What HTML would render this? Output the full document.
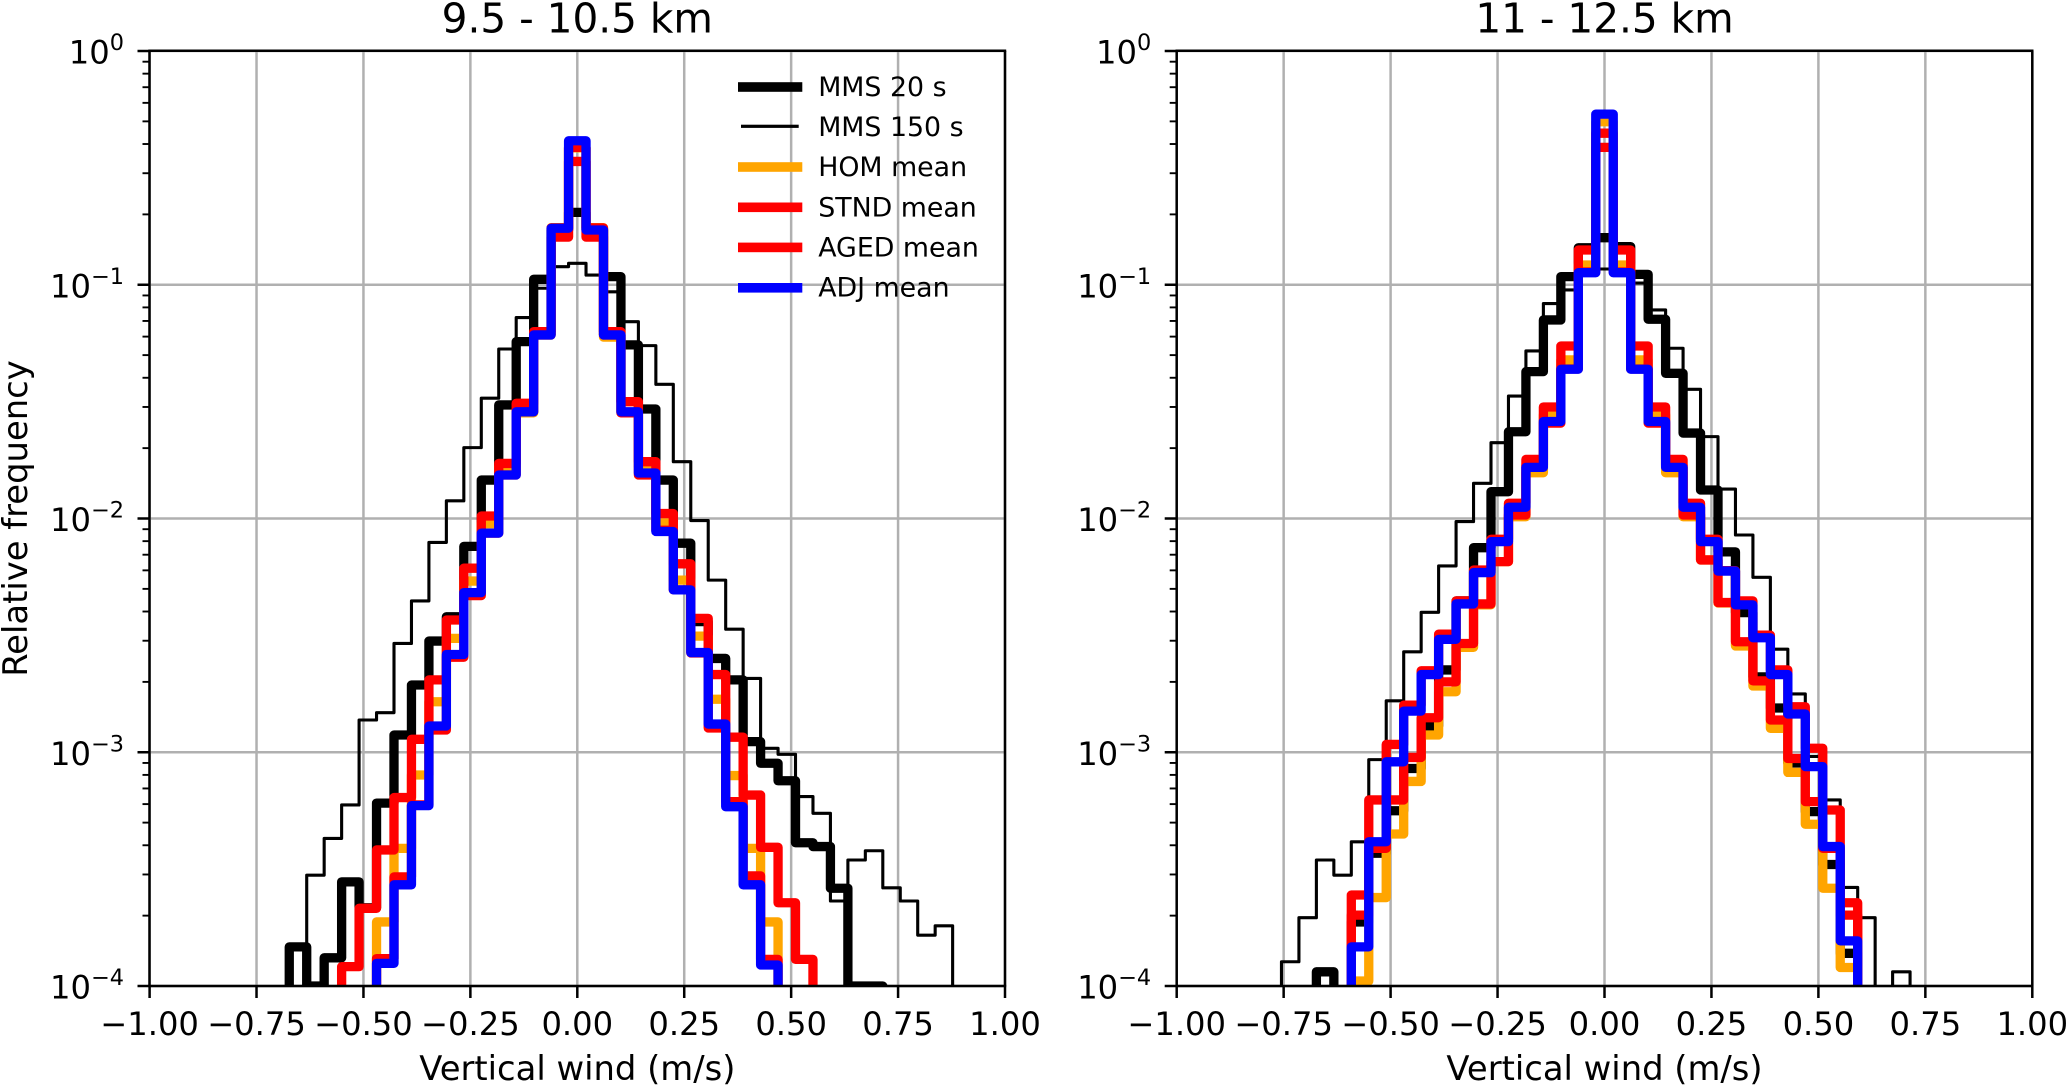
<!DOCTYPE html>
<html lang="en">
<head>
<meta charset="utf-8">
<title>Vertical wind histograms</title>
<style>
html,body{margin:0;padding:0;background:#fff;width:2067px;height:1086px;overflow:hidden}
svg{display:block}
text{font-family:"DejaVu Sans","Liberation Sans",sans-serif;fill:#000}
</style>
</head>
<body>
<svg id="fig" xmlns="http://www.w3.org/2000/svg" width="2067" height="1086" viewBox="0 0 2067 1086">
  <rect x="0" y="0" width="2067" height="1086" fill="#fff"/>
  <defs>
    <clipPath id="clip-left"><rect x="149.5" y="50.7" width="855.5" height="935.3"/></clipPath>
    <clipPath id="clip-right"><rect x="1176.7" y="50.7" width="855.6" height="935.3"/></clipPath>
  </defs>
  <g id="panel-left"></g>
  <g id="panel-right"></g>

  <text x="577.3" y="32.3" font-size="40.6" text-anchor="middle">9.5 - 10.5 km</text>
  <text x="1604.5" y="32.3" font-size="40.6" text-anchor="middle">11 - 12.5 km</text>
  <text x="577.3" y="1080" font-size="33.8" text-anchor="middle">Vertical wind (m/s)</text>
  <text x="1604.5" y="1080" font-size="33.8" text-anchor="middle">Vertical wind (m/s)</text>
  <text transform="translate(27,518.5) rotate(-90)" font-size="33.8" text-anchor="middle">Relative frequency</text>

  <g>
    <g>
      <rect x="738" y="82.2" width="64.3" height="9.6" fill="#000"/>
      <text x="818.2" y="96" font-size="26.8">MMS 20 s</text>
    </g>
    <g>
      <rect x="741" y="124.7" width="57.7" height="3.2" fill="#000"/>
      <text x="818.2" y="136" font-size="26.8">MMS 150 s</text>
    </g>
    <g>
      <rect x="738" y="162.2" width="64.3" height="9.6" fill="#ffa500"/>
      <text x="818.2" y="176.2" font-size="26.8">HOM mean</text>
    </g>
    <g>
      <rect x="738" y="202.5" width="64.3" height="9.6" fill="#ff0000"/>
      <text x="818.2" y="216.7" font-size="26.8">STND mean</text>
    </g>
    <g>
      <rect x="738" y="242.6" width="64.3" height="9.6" fill="#ff0000"/>
      <text x="818.2" y="256.7" font-size="26.8">AGED mean</text>
    </g>
    <g>
      <rect x="738" y="283" width="64.3" height="9.6" fill="#0000ff"/>
      <text x="818.2" y="296.7" font-size="26.8">ADJ mean</text>
    </g>
  </g>
</svg>
<script>
// Tick values and labels
const xTickValues = [-1, -0.75, -0.5, -0.25, 0, 0.25, 0.5, 0.75, 1];
const xTickLabels = ['\u22121.00', '\u22120.75', '\u22120.50', '\u22120.25', '0.00', '0.25', '0.50', '0.75', '1.00'];
const yTickExponents = [0, -1, -2, -3, -4];
const yTickExponentLabels = ['0', '\u22121', '\u22122', '\u22123', '\u22124'];
const binCount = 49;

// Relative frequency per wind bin (49 bins from -1 to 1 m/s), 9.5 - 10.5 km
const mms20Left = [0,0,0,0,0,0,0,0,
  1.47e-4,1e-4,1.32e-4,2.79e-4,2.16e-4,6.06e-4,1.185e-3,1.94e-3,2.99e-3,3.80e-3,7.6e-3,1.46e-2,3.06e-2,5.71e-2,1.055e-1,1.715e-1,2.04e-1,
  1.715e-1,1.083e-1,5.53e-2,2.94e-2,1.46e-2,7.84e-3,3.62e-3,2.52e-3,2.04e-3,1.11e-3,8.97e-4,7.55e-4,4.1e-4,3.95e-4,2.62e-4,1e-4,1e-4,
  0,0,0,0,0,0,0];
const mms150Left = [0,0,0,0,0,0,0,0,0,
  2.98e-4,4.28e-4,5.95e-4,1.374e-3,1.477e-3,2.92e-3,4.44e-3,7.9e-3,1.19e-2,2.01e-2,3.27e-2,5.31e-2,7.24e-2,9.66e-2,1.195e-1,1.235e-1,
  1.10e-1,9.33e-2,6.95e-2,5.49e-2,3.75e-2,1.75e-2,9.8e-3,5.45e-3,3.36e-3,2.07e-3,1.04e-3,9.8e-4,6.46e-4,5.48e-4,2.31e-4,3.46e-4,3.79e-4,2.63e-4,2.31e-4,1.65e-4,1.81e-4,
  0,0,0];
const homLeft = [0,0,0,0,0,0,0,0,0,0,0,0,0,
  1.88e-4,3.88e-4,7.99e-4,1.645e-3,3.07e-3,5.4e-3,9.5e-3,1.665e-2,2.83e-2,6.1e-2,1.755e-1,3.85e-1,
  1.755e-1,5.97e-2,2.83e-2,1.665e-2,9.57e-3,5.45e-3,3.14e-3,1.685e-3,7.95e-4,3.88e-4,1.88e-4,
  0,0,0,0,0,0,0,0,0,0,0,0,0];
const stndLeft = [0,0,0,0,0,0,0,0,0,0,0,
  1.21e-4,2.15e-4,3.82e-4,6.4e-4,1.136e-3,2.04e-3,3.68e-3,6.13e-3,1.025e-2,1.72e-2,3.11e-2,6.3e-2,1.6e-1,3.37e-1,
  1.6e-1,6.3e-2,3.16e-2,1.75e-2,1.05e-2,6.4e-3,3.74e-3,2.15e-3,1.16e-3,6.56e-4,3.92e-4,2.27e-4,1.30e-4,
  0,0,0,0,0,0,0,0,0,0,0];
const agedLeft = [0,0,0,0,0,0,0,0,0,0,0,0,0,
  1.31e-4,2.93e-4,5.95e-4,1.245e-3,2.55e-3,4.68e-3,8.66e-3,1.535e-2,2.86e-2,6.1e-2,1.75e-1,3.87e-1,
  1.75e-1,6.1e-2,2.83e-2,1.535e-2,8.9e-3,4.95e-3,2.66e-3,1.27e-3,6.15e-4,2.96e-4,1.30e-4,
  0,0,0,0,0,0,0,0,0,0,0,0,0];
const adjLeft = [0,0,0,0,0,0,0,0,0,0,0,0,0,
  1.25e-4,2.71e-4,5.91e-4,1.295e-3,2.62e-3,4.82e-3,8.66e-3,1.535e-2,2.86e-2,6.1e-2,1.745e-1,4.13e-1,
  1.715e-1,6.1e-2,2.86e-2,1.565e-2,8.8e-3,4.95e-3,2.67e-3,1.32e-3,5.85e-4,2.71e-4,1.23e-4,
  0,0,0,0,0,0,0,0,0,0,0,0,0];

// Relative frequency per wind bin, 11 - 12.5 km
const mms20Right = [0,0,0,0,0,0,0,0,
  1.15e-4,0,1.88e-4,3.7e-4,5.62e-4,8.52e-4,1.295e-3,2.25e-3,4.44e-3,7.5e-3,1.302e-2,2.35e-2,4.25e-2,7.07e-2,1.083e-1,1.44e-1,1.59e-1,
  1.455e-1,1.108e-1,7.12e-2,4.18e-2,2.32e-2,1.324e-2,7.2e-3,3.96e-3,2.1e-3,1.546e-3,9.0e-4,5.57e-4,3.31e-4,1.38e-4,
  0,0,0,0,0,0,0,0,0,0];
const mms150Right = [0,0,0,0,0,0,
  1.27e-4,1.96e-4,3.46e-4,2.98e-4,4.14e-4,9.3e-4,1.66e-3,2.69e-3,3.97e-3,6.27e-3,9.7e-3,1.414e-2,2.11e-2,3.34e-2,5.21e-2,8.31e-2,9.5e-2,1.156e-1,1.168e-1,
  1.156e-1,1.017e-1,7.8e-2,5.35e-2,3.57e-2,2.24e-2,1.336e-2,8.5e-3,5.6e-3,2.76e-3,1.776e-3,9.6e-4,6.25e-4,2.64e-4,1.96e-4,0,1.15e-4,
  0,0,0,0,0,0,0];
const homRight = [0,0,0,0,0,0,0,0,0,0,
  1.05e-4,2.39e-4,4.47e-4,7.5e-4,1.185e-3,1.815e-3,2.81e-3,4.27e-3,6.54e-3,1.018e-2,1.57e-2,2.77e-2,4.77e-2,1.215e-1,4.98e-1,
  1.215e-1,4.77e-2,2.77e-2,1.57e-2,1.018e-2,6.65e-3,4.35e-3,2.85e-3,1.92e-3,1.266e-3,8.2e-4,4.92e-4,2.62e-4,1.2e-4,
  0,0,0,0,0,0,0,0,0,0];
const stndRight = [0,0,0,0,0,0,0,0,0,0,
  2.45e-4,6.25e-4,1.08e-3,1.59e-3,2.23e-3,3.2e-3,4.44e-3,6.02e-3,8.15e-3,1.162e-2,1.79e-2,3.0e-2,5.47e-2,1.408e-1,4.45e-1,
  1.408e-1,5.47e-2,3.0e-2,1.79e-2,1.162e-2,8.15e-3,5.98e-3,4.44e-3,3.17e-3,2.25e-3,1.566e-3,1.04e-3,5.66e-4,2.27e-4,
  0,0,0,0,0,0,0,0,0,0];
const agedRight = [0,0,0,0,0,0,0,0,0,0,
  2.01e-4,3.88e-4,6.25e-4,9.5e-4,1.405e-3,2.0e-3,2.92e-3,4.31e-3,6.54e-3,1.035e-2,1.69e-2,2.56e-2,4.36e-2,1.134e-1,3.87e-1,
  1.134e-1,4.36e-2,2.56e-2,1.69e-2,1.035e-2,6.65e-3,4.37e-3,2.97e-3,2.02e-3,1.374e-3,9.4e-4,6.15e-4,3.88e-4,2.01e-4,
  0,0,0,0,0,0,0,0,0,0];
const adjRight = [0,0,0,0,0,0,0,0,0,0,
  1.47e-4,4.14e-4,9.1e-4,1.50e-3,2.15e-3,3.04e-3,4.31e-3,5.87e-3,7.96e-3,1.117e-2,1.655e-2,2.6e-2,4.35e-2,1.126e-1,5.37e-1,
  1.126e-1,4.35e-2,2.6e-2,1.655e-2,1.117e-2,7.96e-3,5.96e-3,4.27e-3,3.09e-3,2.15e-3,1.458e-3,8.68e-4,3.95e-4,1.56e-4,
  0,0,0,0,0,0,0,0,0,0];

// Axis functions
const SVG_NS = 'http://www.w3.org/2000/svg';
const leftPanel = { x0: 577.3, span: 427.7, clip: 'clip-left', group: 'panel-left', left: 149.5, right: 1005 };
const rightPanel = { x0: 1604.5, span: 427.8, clip: 'clip-right', group: 'panel-right', left: 1176.7, right: 2032.3 };
const yTop = 51;
const decadeHeight = 233.75;
const axisTop = 50.7;
const axisBottom = 986;

function xScale(panel, v) { return panel.x0 + panel.span * v; }
function yScale(v) { return v > 0 ? yTop - decadeHeight * Math.log10(v) : axisBottom + 60; }

function makeLine(x1, y1, x2, y2, color, width) {
  const el = document.createElementNS(SVG_NS, 'line');
  el.setAttribute('x1', x1);
  el.setAttribute('y1', y1);
  el.setAttribute('x2', x2);
  el.setAttribute('y2', y2);
  el.setAttribute('stroke', color);
  el.setAttribute('stroke-width', width);
  return el;
}

function drawGrid(panel, root) {
  xTickValues.forEach(function (v) {
    const x = xScale(panel, v);
    const el = makeLine(x, axisTop, x, axisBottom, '#b0b0b0', 2.5);
    
    
    root.appendChild(el);
  });
  yTickExponents.forEach(function (e) {
    const y = yScale(Math.pow(10, e));
    const el = makeLine(panel.left, y, panel.right, y, '#b0b0b0', 2.5);
    
    
    root.appendChild(el);
  });
}

function drawStep(panel, root, values, color, width, name) {
  const binWidth = 2 / binCount;
  let d = '';
  values.forEach(function (v, i) {
    const x1 = xScale(panel, -1 + i * binWidth);
    const x2 = xScale(panel, -1 + (i + 1) * binWidth);
    const y = yScale(v);
    d += (i === 0 ? 'M' : 'L') + x1.toFixed(2) + ' ' + y.toFixed(2) + 'L' + x2.toFixed(2) + ' ' + y.toFixed(2);
  });
  const el = document.createElementNS(SVG_NS, 'path');
  el.setAttribute('d', d);
  el.setAttribute('fill', 'none');
  el.setAttribute('stroke', color);
  el.setAttribute('stroke-width', width);
  el.setAttribute('stroke-linejoin', 'round');
  el.setAttribute('clip-path', 'url(#' + panel.clip + ')');
  
  
  root.appendChild(el);
}

function drawAxes(panel, root) {
  const sides = [
    [panel.left, axisTop, panel.left, axisBottom, 'left-spine'],
    [panel.right, axisTop, panel.right, axisBottom, 'right-spine'],
    [panel.left - 1.2, axisTop, panel.right + 1.2, axisTop, 'top-spine'],
    [panel.left - 1.2, axisBottom, panel.right + 1.2, axisBottom, 'bottom-spine']
  ];
  sides.forEach(function (s) {
    const el = makeLine(s[0], s[1], s[2], s[3], '#000', 2.5);
    
    
    root.appendChild(el);
  });
  xTickValues.forEach(function (v, i) {
    const x = xScale(panel, v);
    const tick = makeLine(x, axisBottom, x, axisBottom + 12, '#000', 2.5);
    
    
    root.appendChild(tick);
    const label = document.createElementNS(SVG_NS, 'text');
    label.setAttribute('x', x);
    label.setAttribute('y', 1035);
    label.setAttribute('font-size', 32.2);
    label.setAttribute('text-anchor', 'middle');
    label.textContent = xTickLabels[i];
    
    
    root.appendChild(label);
  });
  yTickExponents.forEach(function (e, i) {
    const y = yScale(Math.pow(10, e));
    const tick = makeLine(panel.left - 12, y, panel.left, y, '#000', 2.5);
    
    
    root.appendChild(tick);
    const label = document.createElementNS(SVG_NS, 'text');
    label.setAttribute('x', panel.left - 25.5);
    label.setAttribute('y', y + 12.5);
    label.setAttribute('font-size', 32.2);
    label.setAttribute('text-anchor', 'end');
    const base = document.createElementNS(SVG_NS, 'tspan');
    base.textContent = '10';
    const sup = document.createElementNS(SVG_NS, 'tspan');
    sup.setAttribute('font-size', 22.4);
    sup.setAttribute('dy', -13.5);
    sup.textContent = yTickExponentLabels[i];
    label.appendChild(base);
    label.appendChild(sup);
    
    
    root.appendChild(label);
    if (e > -4) {
      for (let m = 2; m <= 9; m++) {
        const ym = yScale(m * Math.pow(10, e - 1));
        const minor = makeLine(panel.left - 7, ym, panel.left, ym, '#000', 1.9);
        
        
        root.appendChild(minor);
      }
    }
  });
}

function drawPanel(panel, mms20, mms150, hom, stnd, aged, adj) {
  const root = document.getElementById(panel.group);
  drawGrid(panel, root);
  drawStep(panel, root, mms20, '#000000', 9.3, 'mms-20s-histogram');
  drawStep(panel, root, mms150, '#000000', 3.1, 'mms-150s-histogram');
  drawStep(panel, root, hom, '#ffa500', 9.3, 'hom-mean-histogram');
  drawStep(panel, root, stnd, '#ff0000', 9.3, 'stnd-mean-histogram');
  drawStep(panel, root, aged, '#ff0000', 9.3, 'aged-mean-histogram');
  drawStep(panel, root, adj, '#0000ff', 9.3, 'adj-mean-histogram');
  drawAxes(panel, root);
}

drawPanel(leftPanel, mms20Left, mms150Left, homLeft, stndLeft, agedLeft, adjLeft);
drawPanel(rightPanel, mms20Right, mms150Right, homRight, stndRight, agedRight, adjRight);
</script>
</body>
</html>
